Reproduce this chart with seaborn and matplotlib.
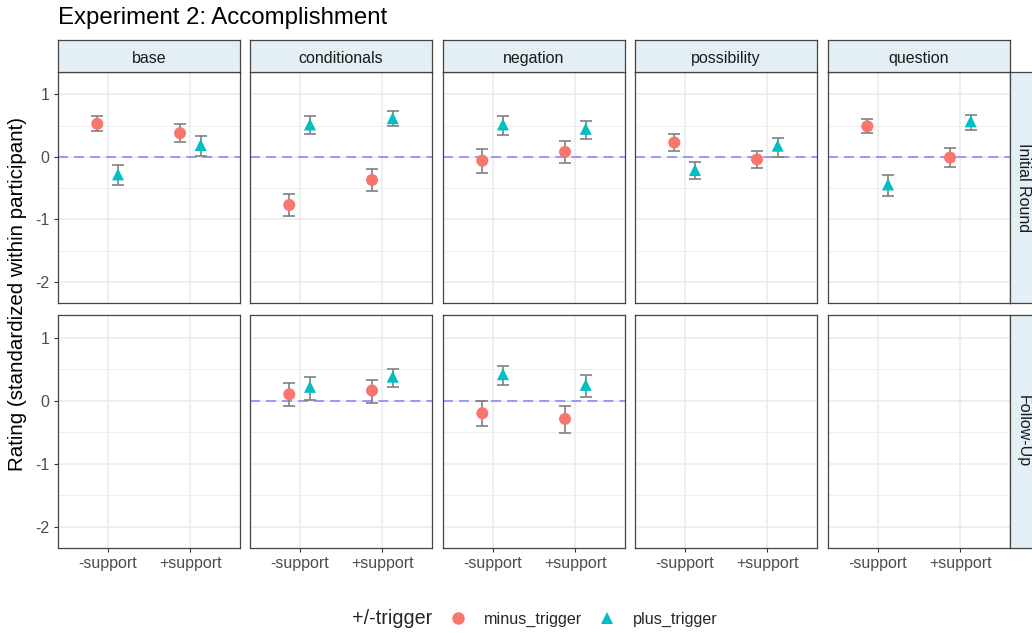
import numpy as np
import pandas as pd
import matplotlib
matplotlib.use("Agg")
import matplotlib.pyplot as plt
from matplotlib.lines import Line2D
import seaborn as sns

sns.set_style("white")
plt.rcParams['font.family'] = ['Liberation Sans', 'DejaVu Sans']

# data
conditions = ["base", "conditionals", "negation", "possibility", "question"]
rounds = ["Initial Round", "Follow-Up"]
supports = ["-support", "+support"]
triggers = ["minus_trigger", "plus_trigger"]

round_col = ["Initial Round"] * 20 + ["Follow-Up"] * 8
cond_col = (["base"] * 4 + ["conditionals"] * 4 + ["negation"] * 4
            + ["possibility"] * 4 + ["question"] * 4
            + ["conditionals"] * 4 + ["negation"] * 4)
support_col = ["-support", "-support", "+support", "+support"] * 7
trigger_col = ["minus_trigger", "plus_trigger"] * 14
mean_val = [0.53, -0.28, 0.38, 0.19,
            -0.77, 0.52, -0.37, 0.62,
            -0.06, 0.52, 0.08, 0.45,
            0.23, -0.21, -0.04, 0.18,
            0.49, -0.44, -0.01, 0.57,
            0.10, 0.22, 0.16, 0.38,
            -0.20, 0.42, -0.29, 0.25]
ci_low = [0.41, -0.45, 0.24, 0.01,
          -0.95, 0.36, -0.55, 0.49,
          -0.26, 0.35, -0.10, 0.28,
          0.10, -0.36, -0.18, 0.00,
          0.38, -0.62, -0.16, 0.43,
          -0.08, 0.01, -0.03, 0.21,
          -0.41, 0.25, -0.51, 0.06]
ci_high = [0.65, -0.13, 0.53, 0.34,
           -0.60, 0.66, -0.19, 0.73,
           0.12, 0.66, 0.26, 0.58,
           0.36, -0.08, 0.09, 0.31,
           0.61, -0.29, 0.14, 0.67,
           0.28, 0.38, 0.33, 0.50,
           0.00, 0.55, -0.09, 0.40]

df = pd.DataFrame({"round": round_col, "condition": cond_col, "support": support_col,
                   "trigger": trigger_col, "mean": mean_val, "lo": ci_low, "hi": ci_high})
dodge = {"minus_trigger": -0.125, "plus_trigger": 0.125}
df["xpos"] = df["support"].map({s: i for i, s in enumerate(supports)}) + df["trigger"].map(dodge)

palette = {"minus_trigger": "#F8766D", "plus_trigger": "#00BFC4"}
markers = {"minus_trigger": "o", "plus_trigger": "^"}

W, H = 1032, 633
fig = plt.figure(figsize=(W / 100, H / 100), dpi=100)


def rect(x0, y0, x1, y1):
    return [x0 / W, 1 - y1 / H, (x1 - x0) / W, (y1 - y0) / H]


col_left = [58, 250, 443, 635, 828]
col_w = 182
row_y = [(72, 303), (315, 548)]
strip_col = "#E3EFF4"
border = "#444444"

for r, rnd in enumerate(rounds):
    for c, cond in enumerate(conditions):
        x0 = col_left[c]
        y0, y1 = row_y[r]
        ax = fig.add_axes(rect(x0, y0, x0 + col_w, y1))
        ax.set_xlim(-0.6, 1.6)
        ax.set_ylim(-2.34, 1.36)
        ax.set_yticks([-2, -1, 0, 1])
        ax.set_yticks([-1.5, -0.5, 0.5], minor=True)
        ax.set_xticks([0, 1])
        ax.grid(True, which="major", color="#EBEBEB", lw=1.1)
        ax.grid(True, which="minor", axis="y", color="#EBEBEB", lw=0.6)
        ax.set_axisbelow(True)
        for sp in ax.spines.values():
            sp.set_color(border)
            sp.set_linewidth(0.9)
        ax.tick_params(which="both", length=0, labelsize=11.5, colors="#4D4D4D")
        ax.tick_params(which="major", color="#333333")
        if c == 0:
            ax.tick_params(axis="y", which="major", length=3, left=True, pad=3)
            ax.set_yticklabels(["-2", "-1", "0", "1"])
        else:
            ax.set_yticklabels([])
        if r == 1:
            ax.tick_params(axis="x", which="major", length=3, bottom=True, pad=3)
            ax.set_xticklabels(supports)
        else:
            ax.set_xticklabels([])
        ax.set_xlabel("")
        ax.set_ylabel("")

        sub = df[(df["round"] == rnd) & (df["condition"] == cond)]
        if len(sub):
            ax.axhline(0, color="#8080FF", lw=1.1, ls=(0, (6.5, 4)), zorder=1)
            ax.errorbar(sub["xpos"], sub["mean"],
                        yerr=[sub["mean"] - sub["lo"], sub["hi"] - sub["mean"]],
                        fmt="none", ecolor="#808080", elinewidth=1.2, capsize=4.5,
                        capthick=1.2, zorder=2)
            sns.scatterplot(data=sub, x="xpos", y="mean", hue="trigger", style="trigger",
                            palette=palette, markers=markers, s=75, linewidth=0,
                            legend=False, ax=ax, zorder=3)
            ax.set_xlabel("")
            ax.set_ylabel("")

        # column strips on top
        if r == 0:
            sax = fig.add_axes(rect(x0, 40, x0 + col_w, 72))
            sax.set_facecolor(strip_col)
            sax.set_xticks([])
            sax.set_yticks([])
            for sp in sax.spines.values():
                sp.set_color(border)
                sp.set_linewidth(0.9)
            sax.text(0.5, 0.47, cond, ha="center", va="center_baseline", fontsize=11.5,
                     color="#1A1A1A", transform=sax.transAxes)

    # row strips on the right
    y0, y1 = row_y[r]
    rax = fig.add_axes(rect(1010, y0, 1042, y1))
    rax.set_facecolor(strip_col)
    rax.set_xticks([])
    rax.set_yticks([])
    for sp in rax.spines.values():
        sp.set_color(border)
        sp.set_linewidth(0.9)
    rax.text(0.42, 0.5, rnd, ha="center", va="center", rotation=-90, fontsize=11.5,
             color="#1A1A1A", transform=rax.transAxes)

fig.text(58 / W, 1 - 18 / H, "Experiment 2: Accomplishment", fontsize=17.3,
         ha="left", va="center", color="black")
fig.text(18 / W, 1 - 294 / H, "Rating (standardized within participant)", fontsize=14.8,
         rotation=90, ha="center", va="center", color="black")

fig.text(352 / W, 1 - 619 / H, "+/-trigger", fontsize=14.2, ha="left", va="center")
handles = [Line2D([], [], marker=markers[t], color=palette[t], ls="none", markersize=9,
                  markeredgewidth=0) for t in triggers]
fig.legend(handles, triggers, loc="center left", bbox_to_anchor=(434 / W, 1 - 619 / H),
           ncol=2, frameon=False, fontsize=11.6, handletextpad=1.0, columnspacing=0.95,
           handlelength=1.2)

fig.savefig("out.png", dpi=100)
